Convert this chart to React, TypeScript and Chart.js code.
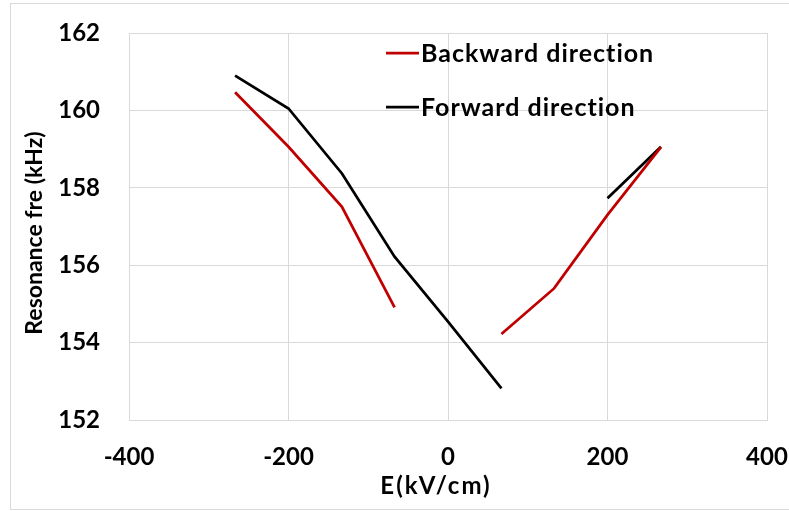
import React, { useEffect, useRef } from "react";
import { Chart, registerables } from "chart.js";

Chart.register(...registerables);

const fieldValues = [-267, -200, -133, -67, 0, 67, 133, 200, 267];
const backwardValues: (number | null)[] = [160.47, 159.06, 157.51, 154.91, null, 154.22, 155.4, 157.3, 159.05];
const forwardValues: (number | null)[] = [160.9, 160.05, 158.37, 156.22, 154.54, 152.82, null, 157.73, 159.06];
const seriesNames = ["Backward direction", "Forward direction"];
const seriesColors = ["#c00000", "#000000"];
const xTitle = "E(kV/cm)";
const yTitle = "Resonance fre (kHz)";

const FONT = "Lato, 'Liberation Sans', sans-serif";

const textPlugin = {
  id: "insideLegend",
  afterDraw(chart: any) {
    const ctx = chart.ctx;
    ctx.save();
    ctx.font = `bold 25px ${FONT}`;
    (ctx as any).letterSpacing = "1px";
    ctx.textBaseline = "middle";
    ctx.textAlign = "left";
    const rows = [53, 107];
    seriesNames.forEach((name, i) => {
      const y = rows[i];
      ctx.strokeStyle = seriesColors[i];
      ctx.lineWidth = 2.75;
      ctx.beginPath();
      ctx.moveTo(386, y);
      ctx.lineTo(419, y);
      ctx.stroke();
      ctx.fillStyle = "#000";
      ctx.fillText(name, 421, y + 1);
    });
    // x-axis title
    ctx.font = `bold 24px ${FONT}`;
    (ctx as any).letterSpacing = "2px";
    ctx.textAlign = "center";
    ctx.fillText(xTitle, 436, 486);
    // y-axis title
    ctx.font = `bold 23px ${FONT}`;
    (ctx as any).letterSpacing = "0px";
    ctx.translate(35, 233);
    ctx.rotate(-Math.PI / 2);
    ctx.fillText(yTitle, 0, 0);
    ctx.restore();
  },
};

const zeroPad = (s: any) => {
  s.paddingTop = 0;
  s.paddingBottom = 0;
  s.paddingLeft = 0;
  s.paddingRight = 0;
};

export default function App() {
  const ref = useRef<HTMLCanvasElement | null>(null);

  useEffect(() => {
    if (!ref.current) return;
    const mk = (vals: (number | null)[]) => fieldValues.map((x, i) => ({ x, y: vals[i] }));
    const chart = new Chart(ref.current, {
      type: "line",
      data: {
        datasets: [
          {
            label: seriesNames[0],
            data: mk(backwardValues) as any,
            borderColor: seriesColors[0],
            backgroundColor: seriesColors[0],
            borderWidth: 2.75,
            pointRadius: 0,
            spanGaps: false,
            tension: 0,
          },
          {
            label: seriesNames[1],
            data: mk(forwardValues) as any,
            borderColor: seriesColors[1],
            backgroundColor: seriesColors[1],
            borderWidth: 2.75,
            pointRadius: 0,
            spanGaps: false,
            tension: 0,
          },
        ],
      },
      options: {
        animation: false,
        responsive: false,
        maintainAspectRatio: false,
        layout: { padding: { top: 33, right: 22, left: 0, bottom: 0 } },
        plugins: { legend: { display: false }, tooltip: { enabled: false } },
        scales: {
          x: {
            type: "linear",
            min: -400,
            max: 400,
            afterFit: (s: any) => {
              s.height = 91;
              zeroPad(s);
            },
            ticks: {
              stepSize: 200,
              padding: 23,
              color: "#000",
              font: { family: FONT, size: 24, weight: "bold" },
              maxRotation: 0,
            },
            grid: { color: "#d9d9d9", lineWidth: 1, drawTicks: false },
            border: { display: true, color: "#d9d9d9" },
            title: { display: false, text: xTitle },
          },
          y: {
            type: "linear",
            min: 152,
            max: 162,
            afterFit: (s: any) => {
              s.width = 129;
              zeroPad(s);
            },
            ticks: {
              stepSize: 2,
              padding: 29,
              color: "#000",
              font: { family: FONT, size: 24, weight: "bold" },
            },
            grid: { color: "#d9d9d9", lineWidth: 1, drawTicks: false },
            border: { display: true, color: "#d9d9d9" },
            title: { display: false, text: yTitle },
          },
        },
      },
      plugins: [textPlugin],
    });
    return () => chart.destroy();
  }, []);

  return (
    <div style={{ position: "absolute", left: 0, top: 0, width: 789, height: 511, background: "#fff" }}>
      <canvas ref={ref} width={789} height={511} style={{ display: "block", width: 789, height: 511 }} />
      <div
        style={{
          position: "absolute",
          left: 10,
          top: 3,
          width: 800,
          height: 505,
          border: "1px solid #d9d9d9",
          pointerEvents: "none",
        }}
      />
    </div>
  );
}
